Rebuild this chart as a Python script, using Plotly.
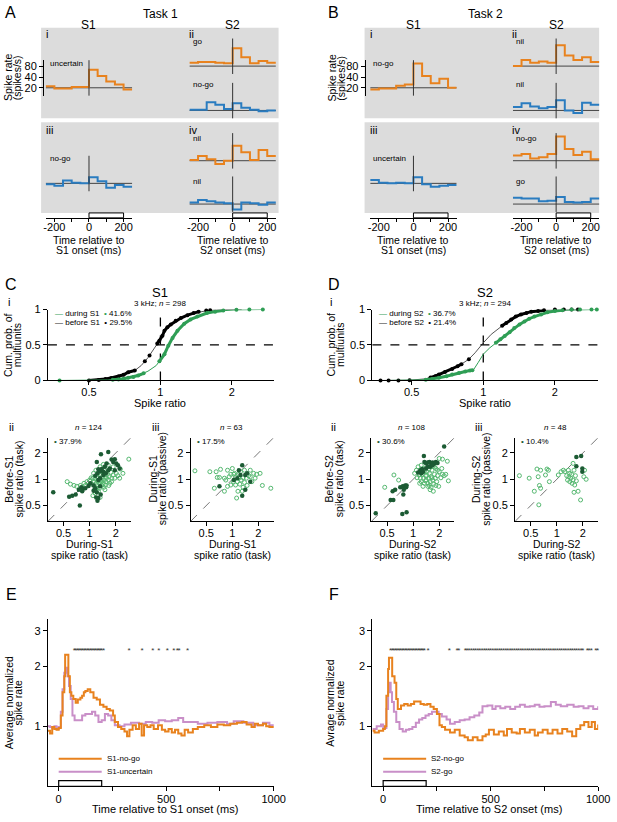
import math
import plotly.graph_objects as go

# ---------------- data ----------------
# A / B: PSTHs, 50 ms bins from -250 to 250 ms (spikes/s); baseline drawn at 20
BIN_EDGES = [-250, -200, -150, -100, -50, 0, 50, 100, 150, 200, 250]
BASE_RATE = 20

A_I_UNCERTAIN = [22, 19, 19, 21, 21, 65, 43, 30, 25, 18]
A_II_GO = [25, 26, 26, 25, 24, 64, 36, 24, 28, 25]
A_II_NOGO = [21, 21, 34, 29, 22, 32, 24, 21, 19, 20]
A_III_NOGO = [19, 17, 24, 21, 20, 30, 23, 15, 18, 16]
A_IV_NIL_O = [21, 27, 22, 16, 20, 53, 35, 21, 40, 27]
A_IV_NIL_B = [22, 26, 24, 22, 21, 14, 22, 21, 19, 22]

B_I_NOGO = [18, 19, 19, 23, 25, 98, 43, 27, 36, 20]
B_II_NIL_O = [20, 30, 25, 27, 25, 78, 40, 30, 36, 26]
B_II_NIL_B = [25, 32, 26, 23, 25, 39, 20, 17, 33, 29]
B_III_UNC = [25, 21, 20, 21, 20, 30, 19, 16, 17, 18]
B_IV_NOGO = [28, 31, 23, 25, 31, 98, 43, 29, 36, 22]
B_IV_GO = [30, 29, 29, 24, 25, 32, 23, 22, 23, 29]

# C / D i: cumulative distributions of spike ratio
C_DUR_R = [0.376, 0.45, 0.55, 0.60, 0.666, 0.732, 0.806, 0.886, 0.96, 1.0, 1.04, 1.08, 1.125, 1.18, 1.26, 1.34, 1.43, 1.57, 1.78, 2.09, 2.7]
C_DUR_P = [0.0, 0.0, 0.003, 0.007, 0.014, 0.037, 0.07, 0.13, 0.21, 0.29, 0.37, 0.49, 0.60, 0.70, 0.80, 0.86, 0.90, 0.95, 0.98, 0.995, 1.0]
C_DUR_DOT_R = [0.376, None, 0.63, 0.666, 0.70, 0.732, 0.77, 0.806, 0.85, None, 0.99, 1.04, 1.08, 1.125, 1.18, 1.26, 1.34, 1.43, 1.57, 1.70, 1.84, None, 2.09, None, 2.37, None, 2.7]
C_DUR_DOT_P = [0.0, None, 0.01, 0.014, 0.025, 0.037, 0.05, 0.07, 0.10, None, 0.27, 0.37, 0.49, 0.60, 0.70, 0.80, 0.86, 0.90, 0.95, 0.97, 0.985, None, 0.995, None, 1.0, None, 1.0]
C_BEF_R = [0.50, 0.586, 0.666, 0.732, 0.78, 0.83, 0.886, 0.944, 0.99, 1.04, 1.106, 1.22, 1.38, 1.62, 1.84, 2.2]
C_BEF_P = [0.0, 0.02, 0.056, 0.116, 0.14, 0.21, 0.32, 0.46, 0.56, 0.70, 0.79, 0.88, 0.95, 0.99, 1.0, 1.0]
C_BEF_DOT_R = [0.50, 0.55, 0.586, 0.62, 0.666, 0.70, 0.732, 0.78, None, 0.86, None, 0.90, None, 0.97, 0.99, 1.02, 1.04, 1.07, 1.106, 1.16, 1.22, 1.30, 1.38, 1.45, None, 1.56, None, 1.62]
C_BEF_DOT_P = [0.0, 0.007, 0.02, 0.035, 0.056, 0.08, 0.116, 0.14, None, 0.27, None, 0.35, None, 0.52, 0.56, 0.63, 0.70, 0.75, 0.79, 0.84, 0.88, 0.92, 0.95, 0.97, None, 0.985, None, 0.99]

D_DUR_R = [0.40, 0.50, 0.573, 0.651, 0.74, 0.84, 0.909, 0.953, 1.0, 1.065, 1.135, 1.23, 1.35, 1.49, 1.64, 1.86, 2.18, 2.6, 3.0]
D_DUR_P = [0.0, 0.003, 0.01, 0.037, 0.083, 0.125, 0.148, 0.255, 0.37, 0.46, 0.53, 0.625, 0.74, 0.83, 0.90, 0.96, 0.99, 1.0, 1.0]
D_DUR_DOT_R = [0.573, 0.61, 0.651, 0.70, 0.74, 0.79, 0.84, 0.88, 0.90, None, 1.13, 1.18, 1.23, 1.29, 1.35, 1.42, 1.49, 1.56, 1.64, 1.75, 1.86, 2.0, 2.15, None, 2.35, None, 2.55, None, 2.85, None, 3.0]
D_DUR_DOT_P = [0.01, 0.02, 0.037, 0.06, 0.083, 0.105, 0.125, 0.14, 0.145, None, 0.53, 0.58, 0.625, 0.68, 0.74, 0.79, 0.83, 0.87, 0.90, 0.93, 0.96, 0.98, 0.99, None, 1.0, None, 1.0, None, 1.0, None, 1.0]
D_BEF_R = [0.37, 0.49, 0.573, 0.651, 0.74, 0.81, 0.87, 0.924, 1.0, 1.08, 1.19, 1.31, 1.44, 1.59, 1.8, 2.18, 2.55]
D_BEF_P = [0.0, 0.003, 0.023, 0.083, 0.16, 0.23, 0.30, 0.39, 0.53, 0.65, 0.76, 0.86, 0.93, 0.97, 0.99, 1.0, 1.0]
D_BEF_DOT_R = [0.37, None, 0.40, None, 0.44, None, 0.49, None, 0.60, 0.63, 0.651, 0.69, 0.74, 0.78, 0.81, None, 0.87, None, 1.20, 1.25, 1.31, 1.37, 1.44, 1.52, 1.59, 1.70, 1.80, None, 2.0, None, 2.18, None, 2.35, None, 2.5]
D_BEF_DOT_P = [0.0, None, 0.0, None, 0.0, None, 0.003, None, 0.04, 0.06, 0.083, 0.12, 0.16, 0.20, 0.23, None, 0.30, None, 0.77, 0.81, 0.86, 0.90, 0.93, 0.95, 0.97, 0.98, 0.99, None, 1.0, None, 1.0, None, 1.0, None, 1.0]

# C / D ii-iii: scatter of spike ratios (filled = significant, open = not)
C2_FILL_X = [0.38, 0.58, 0.63, 0.69, 0.77, 0.75, 0.80, 0.84, 0.89, 0.82, 1.11, 1.16, 1.21, 1.26, 1.23, 1.32, 1.21, 1.35, 1.64, 1.26, 1.32, 1.38, 1.44, 1.50, 1.57, 1.79, 1.87, 1.95, 2.03, 2.12, 2.22, 1.71, 1.23, 1.16, 1.44, 1.54, 1.32, 1.26, 1.64, 1.95, 1.02, 0.97, 1.11, 1.34, 1.19]
C2_FILL_Y = [0.71, 0.63, 0.65, 0.67, 0.50, 0.76, 0.81, 0.78, 0.79, 0.73, 0.85, 0.79, 0.71, 0.61, 0.57, 0.83, 1.58, 1.93, 2.05, 1.30, 1.24, 1.31, 1.22, 1.39, 1.52, 1.68, 1.58, 1.70, 1.52, 1.45, 1.33, 1.33, 1.17, 1.10, 1.12, 1.17, 1.03, 0.98, 1.27, 1.27, 0.90, 0.84, 0.74, 0.67, 0.62]
C2_OPEN_X = [0.55, 0.60, 0.66, 0.71, 0.86, 0.93, 1.0, 1.04, 1.09, 1.13, 1.16, 1.19, 1.21, 1.23, 1.26, 1.30, 1.32, 1.34, 1.38, 1.40, 1.44, 1.46, 1.50, 1.54, 1.57, 1.60, 1.64, 1.68, 1.71, 1.76, 1.80, 1.87, 1.95, 2.03, 2.12, 2.26, 2.22, 2.42, 2.83, 1.23, 1.30, 1.38, 1.46, 1.26, 1.14, 1.06, 1.11, 1.18, 1.32, 1.44, 1.64, 1.87, 1.21, 1.35, 1.52, 1.30, 1.47, 1.66, 1.79, 1.16, 1.09, 1.32, 1.50, 0.78, 0.89]
C2_OPEN_Y = [0.94, 0.88, 0.85, 0.83, 0.90, 0.94, 0.98, 1.04, 1.03, 0.94, 1.01, 0.90, 1.07, 0.96, 1.04, 0.90, 0.98, 1.10, 0.94, 1.03, 0.90, 0.98, 1.06, 0.94, 1.03, 1.14, 0.98, 1.07, 0.90, 1.20, 1.03, 1.12, 1.03, 1.17, 1.10, 1.31, 1.03, 1.17, 1.70, 0.85, 0.79, 0.85, 0.81, 0.73, 0.76, 0.88, 1.17, 1.27, 1.39, 1.48, 1.45, 1.39, 0.79, 0.94, 0.86, 1.14, 1.27, 0.85, 0.94, 0.69, 0.65, 0.62, 0.76, 0.85, 0.85]

C3_FILL_X = [1.19, 1.24, 1.30, 1.41, 1.48, 1.14, 1.04, 1.30, 1.41, 1.61, 0.71]
C3_FILL_Y = [1.27, 1.12, 1.45, 1.12, 1.17, 1.03, 0.98, 0.65, 0.76, 0.94, 0.83]
C3_OPEN_X = [0.37, 0.55, 0.65, 0.73, 0.71, 0.84, 0.88, 0.92, 1.04, 1.09, 1.14, 1.19, 1.22, 1.26, 1.33, 1.38, 1.45, 1.54, 1.61, 1.76, 1.91, 2.09, 2.22, 2.78, 0.81, 0.96, 1.09, 1.16, 1.33, 1.48, 1.68, 1.0, 1.03, 0.96, 1.06, 1.24, 1.61, 1.83, 0.81, 0.62, 1.12, 1.38, 0.67, 1.30, 0.88, 1.19]
C3_OPEN_Y = [1.25, 1.22, 1.22, 1.30, 1.05, 0.98, 1.27, 1.07, 1.14, 1.07, 0.94, 1.03, 0.88, 0.98, 1.04, 0.92, 1.03, 1.10, 1.07, 1.17, 1.14, 1.17, 0.85, 0.79, 0.73, 1.14, 0.86, 0.73, 0.81, 0.85, 0.94, 1.33, 0.94, 0.86, 1.17, 1.22, 1.27, 1.03, 1.03, 0.79, 0.61, 1.27, 1.05, 0.73, 0.83, 1.14]

D2_FILL_X = [0.37, 0.55, 0.59, 0.58, 0.62, 0.71, 0.76, 0.78, 0.81, 0.83, 0.84, 0.77, 0.75, 0.84, 1.21, 1.27, 1.35, 1.41, 1.48, 1.54, 1.61, 1.68, 1.76, 1.83, 1.91, 1.30, 1.48, 1.33, 2.28, 1.57, 1.14, 1.24, 1.68, 1.41]
D2_FILL_Y = [0.41, 0.58, 0.58, 0.73, 0.76, 0.81, 0.83, 0.76, 0.85, 0.81, 0.85, 0.67, 0.40, 0.42, 1.27, 1.31, 1.58, 1.52, 1.56, 1.58, 1.52, 1.56, 1.52, 1.58, 1.54, 1.22, 1.39, 1.85, 2.38, 1.39, 1.20, 1.17, 1.45, 1.33]
D2_OPEN_X = [0.47, 0.60, 0.68, 1.09, 1.14, 1.17, 1.21, 1.24, 1.27, 1.32, 1.35, 1.39, 1.41, 1.45, 1.48, 1.52, 1.54, 1.57, 1.61, 1.65, 1.68, 1.73, 1.76, 1.80, 1.83, 1.87, 1.91, 1.97, 2.0, 2.09, 2.14, 2.18, 2.28, 2.38, 2.55, 2.48, 2.18, 2.0, 1.71, 1.61, 1.54, 1.30, 1.19, 1.24, 1.32, 1.61, 1.76, 1.48, 1.83, 1.35, 1.65, 1.43, 1.26, 1.11, 1.91, 1.52, 1.19, 1.39, 1.57, 1.04]
D2_OPEN_Y = [0.81, 1.12, 0.98, 1.27, 1.39, 1.12, 1.03, 0.94, 1.14, 1.03, 0.90, 1.10, 0.98, 1.22, 0.83, 1.03, 1.17, 0.94, 1.07, 1.27, 0.98, 0.88, 1.14, 1.03, 1.33, 0.94, 1.10, 0.83, 1.22, 1.04, 1.33, 1.14, 1.10, 1.14, 0.96, 1.61, 1.70, 1.73, 0.73, 0.81, 0.85, 0.83, 0.90, 1.45, 1.33, 1.39, 1.39, 0.90, 0.85, 1.22, 1.04, 1.10, 1.24, 1.04, 1.27, 1.31, 1.14, 0.96, 0.76, 1.17]

D3_FILL_X = [1.68, 1.91, 1.68, 1.97, 1.97]
D3_FILL_Y = [1.80, 1.85, 1.41, 1.33, 1.22]
D3_OPEN_X = [0.37, 0.48, 0.61, 0.59, 0.65, 0.77, 0.80, 0.74, 0.82, 0.55, 0.65, 0.62, 0.63, 1.04, 1.12, 1.19, 1.24, 1.30, 1.33, 1.38, 1.41, 1.45, 1.48, 1.50, 1.54, 1.58, 1.61, 1.64, 1.68, 1.58, 1.76, 1.88, 2.05, 2.18, 2.09, 1.41, 1.36, 1.54]
D3_OPEN_Y = [1.10, 1.03, 1.07, 1.31, 1.27, 1.31, 1.27, 1.12, 0.94, 0.73, 0.79, 0.51, 0.85, 1.12, 1.22, 1.27, 1.22, 1.10, 0.98, 1.07, 0.94, 1.03, 1.14, 0.90, 0.98, 1.27, 0.86, 1.10, 0.96, 0.71, 0.73, 0.58, 1.07, 1.00, 1.27, 1.17, 1.27, 1.52]

# E / F: average normalized spike rate (step traces)
E_T_NOGO = [-50, -40, -30, -20, -10, 0, 10, 18, 26, 30, 41, 45, 52, 59, 68, 79, 89, 101, 109, 117, 124, 135, 147, 162, 177, 192, 208, 223, 238, 253, 261, 276, 291, 306, 318, 329, 344, 359, 374, 386, 397, 412, 427, 442, 462, 480, 495, 511, 526, 541, 556, 571, 586, 602, 624, 647, 677, 708, 738, 768, 798, 829, 852, 874, 897, 912, 927, 950, 965, 980, 1000]
E_V_NOGO = [0.95, 0.92, 0.99, 0.97, 0.96, 0.98, 1.13, 1.48, 1.78, 2.28, 2.28, 1.78, 1.48, 1.42, 1.37, 1.31, 1.36, 1.39, 1.42, 1.48, 1.50, 1.53, 1.48, 1.39, 1.36, 1.28, 1.25, 1.22, 1.20, 1.13, 1.05, 0.99, 0.97, 0.94, 0.89, 0.96, 1.01, 0.97, 1.03, 0.90, 1.01, 0.99, 1.01, 0.97, 1.01, 0.96, 0.94, 0.97, 0.93, 0.96, 0.92, 0.90, 0.96, 0.93, 0.97, 0.99, 1.01, 0.99, 1.02, 1.01, 1.03, 1.04, 1.05, 1.02, 0.99, 1.03, 1.01, 1.03, 1.00, 0.99, 0.98]
E_T_UNC = [-50, -40, -30, -20, -10, 0, 10, 18, 26, 33, 41, 48, 56, 64, 74, 94, 109, 124, 139, 155, 170, 185, 200, 215, 230, 245, 261, 283, 306, 336, 374, 405, 435, 465, 495, 526, 556, 579, 609, 647, 692, 738, 783, 814, 859, 905, 950, 980, 1000]
E_V_UNC = [1.0, 0.99, 0.98, 1.0, 0.97, 0.99, 1.18, 1.53, 1.85, 1.96, 1.78, 1.59, 1.37, 1.13, 1.07, 1.07, 1.13, 1.15, 1.15, 1.18, 1.13, 1.05, 1.07, 1.15, 1.13, 1.07, 1.01, 1.0, 1.02, 1.04, 1.03, 1.05, 1.04, 1.07, 1.06, 1.07, 1.10, 1.05, 1.05, 1.03, 1.04, 1.05, 1.03, 1.06, 1.04, 1.01, 1.04, 1.01, 1.0]
E_SIG_T = [73, 80, 88, 95, 103, 110, 118, 125, 133, 140, 148, 155, 163, 170, 178, 185, 193, 200, 209, 327, 388, 438, 466, 505, 535, 552, 560, 600]

F_T_NOGO = [-50, -40, -20, -10, 0, 8, 15, 23, 27, 38, 42, 53, 61, 68, 83, 98, 114, 129, 144, 159, 174, 189, 205, 220, 235, 250, 262, 273, 288, 311, 333, 356, 379, 394, 417, 439, 462, 477, 492, 515, 538, 561, 576, 598, 621, 636, 659, 682, 705, 720, 742, 765, 788, 811, 833, 856, 879, 898, 917, 935, 955, 970, 985, 1000]
F_V_NOGO = [0.95, 0.93, 0.95, 0.95, 0.97, 1.0, 1.42, 1.93, 2.2, 2.2, 1.78, 1.65, 1.37, 1.22, 1.27, 1.29, 1.27, 1.29, 1.33, 1.33, 1.29, 1.28, 1.29, 1.25, 1.22, 1.15, 1.01, 0.99, 0.96, 0.93, 0.96, 0.90, 0.88, 0.85, 0.88, 0.85, 0.89, 0.91, 0.96, 0.91, 0.94, 0.90, 0.97, 0.93, 0.92, 0.97, 0.93, 0.96, 0.90, 0.93, 0.96, 0.92, 0.96, 0.92, 0.97, 0.94, 0.89, 0.97, 1.01, 1.05, 0.99, 1.05, 0.97, 1.02]
F_T_GO = [-50, -30, -10, 0, 15, 23, 30, 35, 41, 50, 61, 76, 91, 106, 121, 136, 152, 167, 182, 197, 212, 227, 242, 258, 273, 295, 311, 333, 356, 379, 402, 424, 447, 462, 485, 508, 523, 545, 568, 591, 614, 636, 659, 682, 705, 727, 750, 780, 803, 826, 856, 886, 909, 932, 955, 977, 1000]
F_V_GO = [0.97, 1.0, 1.02, 0.98, 1.22, 1.48, 1.65, 1.48, 1.32, 1.18, 1.05, 0.97, 0.94, 0.96, 0.97, 0.99, 1.04, 1.08, 1.10, 1.13, 1.15, 1.18, 1.18, 1.15, 1.12, 1.08, 1.03, 1.05, 1.07, 1.08, 1.11, 1.13, 1.17, 1.26, 1.27, 1.22, 1.26, 1.23, 1.25, 1.22, 1.25, 1.28, 1.25, 1.26, 1.28, 1.25, 1.26, 1.32, 1.28, 1.26, 1.28, 1.25, 1.26, 1.23, 1.26, 1.22, 1.26]
F_SIG_T = [35, 43, 50, 58, 65, 73, 80, 88, 95, 103, 110, 118, 125, 133, 140, 148, 155, 163, 170, 178, 185, 192, 209, 308, 344, 352,
           382, 390, 400, 410, 420, 430, 440, 450, 460, 470, 480, 490, 500, 510, 520, 530, 540, 550, 560, 570, 580, 590, 600,
           610, 620, 630, 640, 650, 660, 670, 680, 690, 700, 710, 720, 730, 740, 750, 760, 770, 780, 790, 800, 810, 820, 830,
           840, 850, 860, 870, 880, 890, 900, 910, 920, 929, 950, 958, 968, 989, 997]
SIG_LEVEL = 2.38

# ---------------- styling ----------------
W, H = 617, 822
FONT = "Arial, Liberation Sans, sans-serif"
ORANGE = "#e8821e"
BLUE = "#2a7cc0"
PURPLE = "#c98fc8"
GREEN = "#2f9e55"
DKGREEN = "#1c5b34"
LTGREEN = "#55b870"
GRAY_BG = "#dcdcdc"

AX = dict(showgrid=False, zeroline=False, showline=True, linecolor="black", linewidth=1,
          ticks="outside", ticklen=4, tickcolor="black",
          tickfont=dict(size=11, family=FONT, color="black"))

fig = go.Figure()
layout = {}
shapes = []
annotations = []


def xd(a, b):
    return [a / W, b / W]


def yd(top, bottom):
    return [1 - bottom / H, 1 - top / H]


def names(n):
    s = "" if n == 1 else str(n)
    return "xaxis" + s, "yaxis" + s, "x" + s, "y" + s


def add_axes(n, xdom, ydom, xopts, yopts):
    xa, ya, xr, yr = names(n)
    d = dict(AX)
    d.update(domain=xdom, anchor=yr)
    d.update(xopts)
    layout[xa] = d
    d = dict(AX)
    d.update(domain=ydom, anchor=xr)
    d.update(yopts)
    layout[ya] = d
    return xr, yr


def note(text, x, y, size=11, xanchor="center", yanchor="middle", angle=0, color="black"):
    annotations.append(dict(text=text, showarrow=False, textangle=angle,
                            font=dict(size=size, color=color, family=FONT),
                            xanchor=xanchor, yanchor=yanchor,
                            x=x / W, y=1 - y / H, xref="paper", yref="paper"))


def note_lines(lines, x, y, gap, size=10.5, rotated=False):
    # stacked lines with a tight line gap (px between line centres)
    k = len(lines)
    for j, t in enumerate(lines):
        off = (j - (k - 1) / 2) * gap
        if rotated:
            note(t, x + off, y, size=size, angle=-90)
        else:
            note(t, x, y + off, size=size)


def hline_paper(x0, x1, y, color, width=1.5):
    shapes.append(dict(type="line", xref="paper", yref="paper", x0=x0 / W, x1=x1 / W,
                       y0=1 - y / H, y1=1 - y / H, line=dict(color=color, width=width)))


# ---------------- A / B ----------------
PX_PER_OCT = 10.75
MINI_LO = math.log10(BASE_RATE) - 8 / PX_PER_OCT * math.log10(2)
MINI_HI = math.log10(BASE_RATE) + 28 / PX_PER_OCT * math.log10(2)
HALF_W = 44.25

MINI = [
    # col centre px, baseline px, colour, rates, axis role
    (89, 83, ORANGE, A_I_UNCERTAIN, "yaxis_A"),
    (236, 61, ORANGE, A_II_GO, None),
    (236, 106, BLUE, A_II_NOGO, None),
    (89, 180, BLUE, A_III_NOGO, "xaxis"),
    (236, 157, ORANGE, A_IV_NIL_O, None),
    (236, 201, BLUE, A_IV_NIL_B, "xaxis"),
    (421, 83, ORANGE, B_I_NOGO, "yaxis_B"),
    (567, 61, ORANGE, B_II_NIL_O, None),
    (567, 106, BLUE, B_II_NIL_B, None),
    (421, 180, BLUE, B_III_UNC, "xaxis"),
    (567, 157, ORANGE, B_IV_NOGO, None),
    (567, 201, BLUE, B_IV_GO, "xaxis"),
]

for i, (cx, base, col, rates, role) in enumerate(MINI, start=1):
    xopts = dict(range=[-250, 250], visible=False)
    yopts = dict(type="log", range=[MINI_LO, MINI_HI], visible=False)
    if role == "xaxis":
        xopts = dict(range=[-250, 250], anchor="free", position=1 - 215 / H, ticklen=3,
                     ticklabelstandoff=-4,
                     tickvals=[-200, -100, 0, 100, 200], ticktext=["-200", "", "0", "", "200"])
    if role and role.startswith("yaxis"):
        pos = 42 if role == "yaxis_A" else 371
        yopts = dict(type="log", range=[MINI_LO, MINI_HI], anchor="free", position=pos / W,
                     tickvals=[20, 40, 80], ticktext=["20", "40", "80"])
    xr, yr = add_axes(i, xd(cx - HALF_W, cx + HALF_W), yd(base - 28, base + 8), xopts, yopts)
    fig.add_trace(go.Scatter(x=[-250, 250], y=[BASE_RATE, BASE_RATE], mode="lines",
                             line=dict(color="#444444", width=1), xaxis=xr, yaxis=yr))
    fig.add_trace(go.Scatter(x=BIN_EDGES, y=rates + [rates[-1]], mode="lines", line_shape="hv",
                             line=dict(color=col, width=2), xaxis=xr, yaxis=yr))
    shapes.append(dict(type="line", xref=xr, yref=yr + " domain", x0=0, x1=0, y0=0, y1=1,
                       line=dict(color="#333333", width=1)))
    if role == "xaxis":
        shapes.append(dict(type="rect", xref=xr, yref="paper", x0=0, x1=200,
                           y0=1 - 215 / H, y1=1 - 210 / H, line=dict(color="black", width=1)))

# gray backgrounds
for x0, x1 in [(40, 283), (371, 611)]:
    for y0, y1 in [(22, 114), (118, 210)]:
        shapes.append(dict(type="rect", xref="paper", yref="paper", layer="below",
                           x0=x0 / W, x1=x1 / W, y0=1 - y1 / H, y1=1 - y0 / H,
                           fillcolor=GRAY_BG, line=dict(width=0)))

note("A", 1, 7, size=16, xanchor="left")
note("B", 332, 7, size=16, xanchor="left")
note("Task 1", 162, 8, size=12)
note("Task 2", 495, 8, size=12)
for cx, lab in [(89, "S1"), (236, "S2"), (421, "S1"), (567, "S2")]:
    note(lab, cx, 19, size=12)
    note_lines(["Time relative to", lab + " onset (ms)"], cx, 242.5, 11)
note_lines(["Spike rate", "(spikes/s)"], 11, 73, 9.5, rotated=True)
note_lines(["Spike rate", "(spikes/s)"], 342, 73, 9.5, rotated=True)

for ox, ls in [(0, ["uncertain", "go", "no-go", "no-go", "nil", "nil"]),
               (331, ["no-go", "nil", "nil", "uncertain", "no-go", "go"])]:
    note("i", 43 + ox, 28, size=11, xanchor="left")
    note("ii", 189 + ox, 28, size=11, xanchor="left")
    note("iii", 43 + ox, 126, size=11, xanchor="left")
    note("iv", 189 + ox, 126, size=11, xanchor="left")
    note(ls[0], 47 + ox, 58, size=8, xanchor="left")
    note(ls[1], 193 + ox, 36, size=8, xanchor="left")
    note(ls[2], 193 + ox, 80, size=8, xanchor="left")
    note(ls[3], 47 + ox, 155, size=8, xanchor="left")
    note(ls[4], 193 + ox, 134, size=8, xanchor="left")
    note(ls[5], 193 + ox, 178, size=8, xanchor="left")

# ---------------- C / D i: CDFs ----------------
CDF = [
    (13, 47, 278, [0.336, 3.0], "S1", "298", "41.6%", "29.5%", 162, 11,
     (C_DUR_R, C_DUR_P, C_DUR_DOT_R, C_DUR_DOT_P), (C_BEF_R, C_BEF_P, C_BEF_DOT_R, C_BEF_DOT_P)),
    (14, 379, 610, [0.342, 3.04], "S2", "294", "36.7%", "21.4%", 494, 341,
     (D_DUR_R, D_DUR_P, D_DUR_DOT_R, D_DUR_DOT_P), (D_BEF_R, D_BEF_P, D_BEF_DOT_R, D_BEF_DOT_P)),
]
for n, x0, x1, xr_lim, stim, nn, pd_, pb_, cmid, ytx, dur, bef in CDF:
    xr, yr = add_axes(n, xd(x0, x1), yd(308, 380),
                      dict(type="log", range=[math.log10(xr_lim[0]), math.log10(xr_lim[1])],
                           ticklabelstandoff=-3,
                           tickvals=[0.5, 1, 2], ticktext=["0.5", "1", "2"]),
                      dict(range=[0, 1], tickvals=[0, 0.5, 1], ticktext=["0", "0.5", "1"]))
    shapes.append(dict(type="line", xref=xr + " domain", yref=yr, x0=0, x1=1, y0=0.5, y1=0.5,
                       line=dict(color="black", width=1.3, dash="dash")))
    fig.add_trace(go.Scatter(x=[1, 1], y=[0, 1], mode="lines", xaxis=xr, yaxis=yr,
                             line=dict(color="black", width=1.3, dash="dash"), cliponaxis=False))
    for (r, p, dr, dp), lc, mc in [(bef, "#555555", "black"), (dur, GREEN, GREEN)]:
        fig.add_trace(go.Scatter(x=r, y=p, mode="lines", line=dict(color=lc, width=1),
                                 xaxis=xr, yaxis=yr, cliponaxis=False))
        fig.add_trace(go.Scatter(x=dr, y=dp, mode="lines+markers", line=dict(color=mc, width=3),
                                 marker=dict(color=mc, size=4), xaxis=xr, yaxis=yr,
                                 cliponaxis=False, connectgaps=False))
    note(stim, cmid, 291, size=13)
    note("3 kHz; <i>n</i> = " + nn, cmid, 302, size=8)
    note('<span style="color:%s">—</span> during %s  <span style="color:%s">•</span> %s' % (GREEN, stim, GREEN, pd_),
         x0 + 5, 312, size=8, xanchor="left")
    note("— before %s  • %s" % (stim, pb_), x0 + 5, 321, size=8, xanchor="left")
    note("Spike ratio", cmid, 403, size=11)
    note_lines(["Cum. prob. of", "multiunits"], ytx, 344, 9.5, rotated=True)

note("C", 1, 283, size=16, xanchor="left")
note("D", 332, 283, size=16, xanchor="left")
note("i", 4, 300, size=11, xanchor="left")
note("i", 334, 300, size=11, xanchor="left")

# ---------------- C / D ii-iii: scatters ----------------
SC = [
    (15, 47, 132, C2_FILL_X, C2_FILL_Y, C2_OPEN_X, C2_OPEN_Y, "ii", "124", "37.9%",
     ["Before-S1", "spike ratio (task)"], ["During-S1", "spike ratio (task)"], 5, 12),
    (16, 193, 278, C3_FILL_X, C3_FILL_Y, C3_OPEN_X, C3_OPEN_Y, "iii", "63", "17.5%",
     ["During-S1", "spike ratio (passive)"], ["During-S1", "spike ratio (task)"], 151, 159),
    (17, 378, 463, D2_FILL_X, D2_FILL_Y, D2_OPEN_X, D2_OPEN_Y, "ii", "108", "30.6%",
     ["Before-S2", "spike ratio (task)"], ["During-S2", "spike ratio (task)"], 335, 340),
    (18, 525, 610, D3_FILL_X, D3_FILL_Y, D3_OPEN_X, D3_OPEN_Y, "iii", "48", "10.4%",
     ["During-S2", "spike ratio (passive)"], ["During-S2", "spike ratio (task)"], 482, 490),
]
LOG_LIM = [math.log10(0.33), math.log10(3.0)]
for n, x0, x1, fx, fy, ox_, oy_, tag, nn, pct, ytitle, xtitle, tagx, ytx in SC:
    xr, yr = add_axes(n, xd(x0, x1), yd(438, 523),
                      dict(type="log", range=LOG_LIM, tickvals=[0.5, 1, 2], ticktext=["0.5", "1", "2"],
                           ticklabelstandoff=-3),
                      dict(type="log", range=LOG_LIM, tickvals=[0.5, 1, 2], ticktext=["0.5", "1", "2"]))
    fig.add_trace(go.Scatter(x=[0.33, 3.0], y=[0.33, 3.0], mode="lines", xaxis=xr, yaxis=yr,
                             line=dict(color="#777777", width=1, dash="dash")))
    fig.add_trace(go.Scatter(x=ox_, y=oy_, mode="markers", xaxis=xr, yaxis=yr, cliponaxis=False,
                             marker=dict(symbol="circle-open", size=4, color=LTGREEN, line=dict(width=1))))
    fig.add_trace(go.Scatter(x=fx, y=fy, mode="markers", xaxis=xr, yaxis=yr, cliponaxis=False,
                             marker=dict(size=4.5, color=DKGREEN)))
    cx = (x0 + x1) / 2
    note(tag, tagx, 427, size=11, xanchor="left")
    note("<i>n</i> = " + nn, cx - 1, 428, size=8)
    note('<span style="color:%s">•</span> %s' % (DKGREEN, pct), x0 + 4, 442, size=8, xanchor="left")
    note_lines(ytitle, ytx, 480, 10, rotated=True)
    note_lines(xtitle, cx, 551.5, 11)

# ---------------- E / F ----------------
TS = [
    (19, 47, 278, E_T_NOGO, E_V_NOGO, E_T_UNC, E_V_UNC, E_SIG_T, "S1-no-go", "S1-uncertain",
     ["Average normalized", "spike rate"], "Time relative to S1 onset (ms)", 11.5, "E", 2),
    (20, 379, 610, F_T_NOGO, F_V_NOGO, F_T_GO, F_V_GO, F_SIG_T, "S2-no-go", "S2-go",
     ["Avrage normalized", "spike rate"], "Time relative to S2 onset (ms)", 340.5, "F", 333),
]
for n, x0, x1, t1, v1, t2, v2, sig, l1, l2, ytitle, xtitle, ytx, letter, lx in TS:
    xr, yr = add_axes(n, xd(x0, x1), yd(622, 792),
                      dict(range=[-50, 1000], tickvals=[0, 250, 500, 750, 1000],
                           ticktext=["0", "", "500", "", "1000"], ticklabelstandoff=-2),
                      dict(type="log", range=[math.log10(0.5), math.log10(3.44)],
                           tickvals=[1, 2, 3], ticktext=["1", "2", "3"]))
    fig.add_trace(go.Scatter(x=t2, y=v2, mode="lines", line_shape="hv", xaxis=xr, yaxis=yr,
                             line=dict(color=PURPLE, width=2)))
    fig.add_trace(go.Scatter(x=t1, y=v1, mode="lines", line_shape="hv", xaxis=xr, yaxis=yr,
                             line=dict(color=ORANGE, width=2)))
    fig.add_trace(go.Scatter(x=sig, y=[SIG_LEVEL] * len(sig), mode="text", text=["*"] * len(sig),
                             textfont=dict(size=8, color="#333333", family=FONT),
                             xaxis=xr, yaxis=yr, cliponaxis=False))
    shapes.append(dict(type="rect", xref=xr, yref="paper", x0=0, x1=200,
                       y0=1 - 792 / H, y1=1 - 786 / H, line=dict(color="black", width=1.2)))
    lx0 = x0 + 11
    hline_paper(lx0, lx0 + 44, 764, ORANGE, 2)
    hline_paper(lx0, lx0 + 44, 777, PURPLE, 2)
    note(l1, lx0 + 47, 764, size=8, xanchor="left")
    note(l2, lx0 + 47, 777, size=8, xanchor="left")
    note_lines(ytitle, ytx, 707, 9.5, rotated=True)
    note(xtitle, (x0 + x1) / 2 + 4, 815, size=11)
    note(letter, lx, 597, size=16, xanchor="left")

fig.update_layout(**layout)
fig.update_layout(width=W, height=H, margin=dict(l=0, r=0, t=0, b=0), showlegend=False,
                  plot_bgcolor="rgba(0,0,0,0)", paper_bgcolor="white",
                  font=dict(family=FONT, size=11, color="black"),
                  shapes=shapes, annotations=annotations)

# page margin off so the 617x822 figure fills the window exactly; no mode bar
fig.write_html("out.html", config={"displayModeBar": False},
               post_script="document.body.style.margin='0';")
